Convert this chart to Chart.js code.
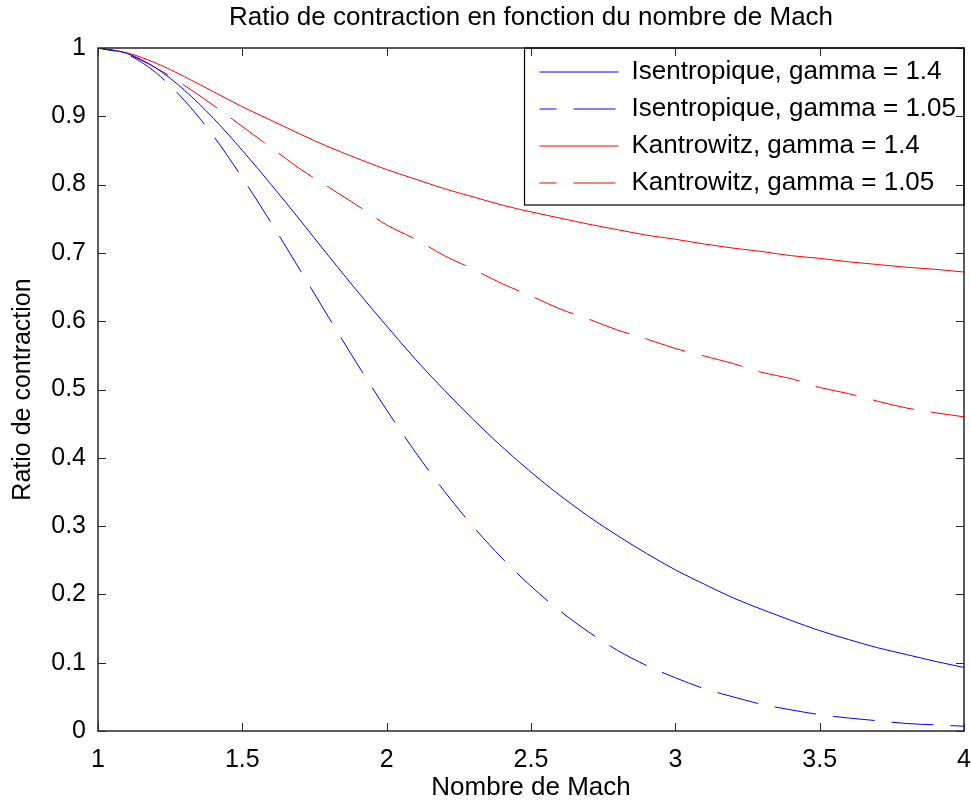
<!DOCTYPE html>
<html>
<head>
<meta charset="utf-8">
<title>Ratio de contraction</title>
<script src="https://cdn.jsdelivr.net/npm/chart.js@4.4.1/dist/chart.umd.min.js"></script>
<style>
  html, body { margin: 0; padding: 0; background: #fff; }
  #wrap { width: 971px; height: 801px; }
</style>
</head>
<body>
<div id="wrap"><canvas id="myChart" width="971" height="801"></canvas></div>
<script>
'use strict';

//---------------------- Data -------------------
let machNumbers = [1.0, 1.1, 1.2, 1.3, 1.4, 1.5, 1.6, 1.7, 1.8, 1.9, 2.0, 2.1, 2.2, 2.3, 2.4, 2.5,
  2.6, 2.7, 2.8, 2.9, 3.0, 3.1, 3.2, 3.3, 3.4, 3.5, 3.6, 3.7, 3.8, 3.9, 4.0];

let isentropic14 = [1.000, 0.992, 0.971, 0.938, 0.897, 0.850, 0.800, 0.748, 0.695, 0.643, 0.593,
  0.544, 0.499, 0.456, 0.416, 0.379, 0.345, 0.314, 0.286, 0.260, 0.236,
  0.215, 0.195, 0.178, 0.162, 0.147, 0.134, 0.122, 0.112, 0.102, 0.093];
let isentropic105 = [1.000, 0.991, 0.964, 0.923, 0.871, 0.810, 0.744, 0.675, 0.605, 0.536, 0.470,
  0.408, 0.351, 0.299, 0.253, 0.212, 0.176, 0.145, 0.118, 0.096, 0.078,
  0.062, 0.050, 0.039, 0.031, 0.024, 0.019, 0.015, 0.011, 0.009, 0.007];
let kantrowitz14 = [1.000, 0.993, 0.978, 0.958, 0.936, 0.914, 0.894, 0.874, 0.855, 0.838, 0.822,
  0.808, 0.794, 0.782, 0.770, 0.760, 0.751, 0.742, 0.734, 0.726, 0.720,
  0.713, 0.707, 0.702, 0.696, 0.692, 0.687, 0.683, 0.679, 0.676, 0.672];
let kantrowitz105 = [1.000, 0.991, 0.971, 0.945, 0.916, 0.885, 0.854, 0.823, 0.796, 0.769, 0.741,
  0.720, 0.696, 0.676, 0.655, 0.637, 0.618, 0.603, 0.587, 0.574, 0.560,
  0.549, 0.538, 0.525, 0.516, 0.503, 0.494, 0.483, 0.473, 0.466, 0.460];

let seriesNames = ['Isentropique, gamma = 1.4', 'Isentropique, gamma = 1.05',
  'Kantrowitz, gamma = 1.4', 'Kantrowitz, gamma = 1.05'];

let xTicks = [1, 1.5, 2, 2.5, 3, 3.5, 4];
let yTicks = [0, 0.1, 0.2, 0.3, 0.4, 0.5, 0.6, 0.7, 0.8, 0.9, 1];

//---------------------- Helpers -------------------
let fontFamily = "'Liberation Sans', Arial, Helvetica, sans-serif";
let legendFontSize = 26;
let legendPadding = 11;

function toPoints(values) {
  return machNumbers.map((m, i) => ({ x: m, y: values[i] }));
}

function makeDataset(name, values, colour, dashed) {
  return {
    label: name,
    data: toPoints(values),
    borderColor: colour,
    backgroundColor: colour,
    borderWidth: 1,
    borderDash: dashed ? [42, 17] : [],
    borderDashOffset: dashed ? 25 : 0,
    pointRadius: 0,
    fill: false,
    cubicInterpolationMode: 'monotone'
  };
}

// legend entries keep the colour and the dash of their line
function legendLabels(chart) {
  let items = Chart.defaults.plugins.legend.labels.generateLabels(chart);
  items.forEach((item, i) => {
    let ds = chart.data.datasets[i];
    item.strokeStyle = ds.borderColor;
    item.fillStyle = ds.borderColor;
    item.lineDash = ds.borderDash;
    item.lineDashOffset = ds.borderDashOffset;
    item.lineWidth = 1;
    item.pointStyle = 'line';
  });
  return items;
}

// matlab look: box around the axes, ticks pointing inside, legend with a frame
let matlabFrame = {
  id: 'matlabFrame',
  afterLayout(chart) {
    let area = chart.chartArea;
    chart.titleBlock.left = area.left;
    chart.titleBlock.right = area.right;
    chart.titleBlock.width = area.right - area.left;

    let legend = chart.legend;
    legend.top = area.top;
    legend.bottom = area.bottom;
    legend.left = area.right - legend.columnSizes[0].width - 2 * legendPadding + 3;
    legend.right = area.right;
  },
  afterDraw(chart) {
    let ctx = chart.ctx;
    let area = chart.chartArea;
    let xScale = chart.scales.x;
    let yScale = chart.scales.y;
    let tickLen = 8;

    ctx.save();
    ctx.strokeStyle = '#262626';
    ctx.lineWidth = 1;
    ctx.beginPath();
    xScale.ticks.forEach(t => {
      let px = Math.round(xScale.getPixelForValue(t.value)) + 0.5;
      ctx.moveTo(px, area.bottom);
      ctx.lineTo(px, area.bottom - tickLen);
      ctx.moveTo(px, area.top);
      ctx.lineTo(px, area.top + tickLen);
    });
    yScale.ticks.forEach(t => {
      let py = Math.round(yScale.getPixelForValue(t.value)) + 0.5;
      ctx.moveTo(area.left, py);
      ctx.lineTo(area.left + tickLen, py);
      ctx.moveTo(area.right, py);
      ctx.lineTo(area.right - tickLen, py);
    });
    ctx.stroke();

    ctx.lineWidth = 1.5;
    ctx.strokeRect(area.left, area.top, area.right - area.left, area.bottom - area.top);

    let legend = chart.legend;
    let n = legend.legendItems.length;
    let boxBottom = area.top + legendPadding + n * (legendFontSize + legendPadding) - 2;
    ctx.strokeStyle = '#000';
    ctx.lineWidth = 1.2;
    ctx.strokeRect(legend.left - 4, area.top, area.right - legend.left + 4, boxBottom - area.top);
    ctx.restore();
  }
};

//---------------------- Chart -------------------
Chart.defaults.font.family = fontFamily;
Chart.defaults.color = '#000';

let ctx = document.getElementById('myChart').getContext('2d');
let myChart = new Chart(ctx, {
  type: 'line',
  data: {
    datasets: [
      makeDataset(seriesNames[0], isentropic14, '#0000ff', false),
      makeDataset(seriesNames[1], isentropic105, '#0000ff', true),
      makeDataset(seriesNames[2], kantrowitz14, '#ff0000', false),
      makeDataset(seriesNames[3], kantrowitz105, '#ff0000', true)
    ]
  },
  options: {
    responsive: false,
    animation: false,
    events: [],
    layout: { padding: { left: 0, right: 7, top: 0, bottom: 0 } },
    scales: {
      x: {
        type: 'linear',
        min: 1,
        max: 4,
        afterBuildTicks: (scale) => { scale.ticks = xTicks.map(v => ({ value: v })); },
        afterFit: (scale) => {
          scale.height = 70;
          scale.paddingLeft = 0;
          scale.paddingRight = 0;
        },
        grid: { display: false, drawTicks: false },
        border: { display: false },
        ticks: { padding: 14, font: { size: 25 }, color: '#000', callback: (v) => String(v) },
        title: { display: true, text: 'Nombre de Mach', font: { size: 26, lineHeight: 1 }, padding: { top: 0, bottom: 0 } }
      },
      y: {
        type: 'linear',
        min: 0,
        max: 1,
        afterBuildTicks: (scale) => { scale.ticks = yTicks.map(v => ({ value: v })); },
        afterFit: (scale) => {
          scale.width = 98;
          scale.paddingTop = 0;
          scale.paddingBottom = 0;
        },
        grid: { display: false, drawTicks: false },
        border: { display: false },
        ticks: { padding: 12, font: { size: 25 }, color: '#000', callback: (v) => String(v) },
        title: { display: true, text: 'Ratio de contraction', font: { size: 25 }, padding: { top: 8, bottom: 0 } }
      }
    },
    plugins: {
      title: {
        display: true,
        text: 'Ratio de contraction en fonction du nombre de Mach',
        font: { size: 26, weight: 'normal' },
        color: '#000',
        padding: { top: 2, bottom: 14.8 }
      },
      legend: {
        display: true,
        position: 'chartArea',
        align: 'start',
        labels: {
          usePointStyle: true,
          pointStyle: 'line',
          pointStyleWidth: 79,
          padding: legendPadding,
          color: '#000',
          font: { size: legendFontSize },
          generateLabels: legendLabels
        }
      },
      tooltip: { enabled: false }
    }
  },
  plugins: [matlabFrame]
});
</script>
</body>
</html>
